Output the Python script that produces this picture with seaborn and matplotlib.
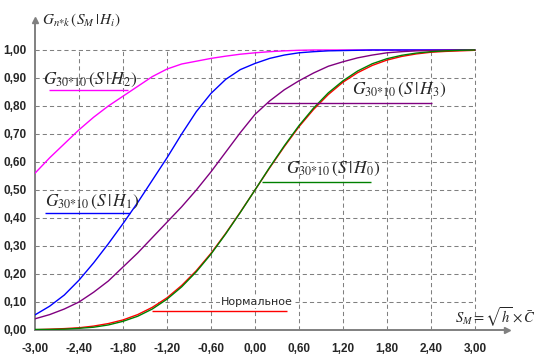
"""Distribution functions G(S|Hi) vs normal CDF."""
import numpy as np
import pandas as pd
import matplotlib
matplotlib.use("Agg")
import matplotlib.pyplot as plt
import seaborn as sns

# x grid for all curves
s_m = [-3.0, -2.8, -2.6, -2.4, -2.2, -2.0, -1.8, -1.6, -1.4, -1.2, -1.0,
       -0.8, -0.6, -0.4, -0.2, 0.0, 0.2, 0.4, 0.6, 0.8, 1.0,
       1.2, 1.4, 1.6, 1.8, 2.0, 2.2, 2.4, 2.6, 2.8, 3.0]

g_h2 = [0.560, 0.615, 0.665, 0.715, 0.760, 0.800, 0.835, 0.870, 0.905, 0.932, 0.950,
        0.960, 0.970, 0.978, 0.985, 0.990, 0.994, 0.997, 0.999, 1.000, 1.000,
        1.000, 1.000, 1.000, 1.000, 1.000, 1.000, 1.000, 1.000, 1.000, 1.000]
g_h1 = [0.054, 0.085, 0.125, 0.178, 0.240, 0.308, 0.380, 0.455, 0.535, 0.615, 0.700,
        0.780, 0.845, 0.895, 0.930, 0.952, 0.970, 0.982, 0.990, 0.994, 0.997,
        0.998, 0.999, 1.000, 1.000, 1.000, 1.000, 1.000, 1.000, 1.000, 1.000]
g_h3 = [0.040, 0.055, 0.075, 0.100, 0.135, 0.175, 0.225, 0.275, 0.330, 0.385, 0.440,
        0.500, 0.565, 0.635, 0.705, 0.770, 0.818, 0.858, 0.890, 0.918, 0.942,
        0.958, 0.972, 0.982, 0.990, 0.994, 0.997, 0.998, 0.999, 1.000, 1.000]
g_h0 = [0.002, 0.002, 0.003, 0.006, 0.010, 0.018, 0.031, 0.049, 0.075, 0.110, 0.154,
        0.208, 0.271, 0.343, 0.420, 0.500, 0.581, 0.658, 0.730, 0.793, 0.847,
        0.890, 0.925, 0.951, 0.969, 0.981, 0.989, 0.994, 0.997, 0.999, 1.000]
normal = [0.001, 0.003, 0.005, 0.008, 0.014, 0.023, 0.036, 0.055, 0.081, 0.115, 0.159,
          0.212, 0.274, 0.345, 0.421, 0.500, 0.579, 0.655, 0.726, 0.788, 0.841,
          0.885, 0.919, 0.945, 0.964, 0.977, 0.986, 0.992, 0.995, 0.997, 0.999]

x_ticks = [-3.0, -2.4, -1.8, -1.2, -0.6, 0.0, 0.6, 1.2, 1.8, 2.4, 3.0]
y_ticks = [0.0, 0.1, 0.2, 0.3, 0.4, 0.5, 0.6, 0.7, 0.8, 0.9, 1.0]

GRID = "#808080"

sns.set_style("white")
plt.rcParams["font.family"] = ["Liberation Sans", "DejaVu Sans"]
plt.rcParams["mathtext.fontset"] = "stix"
plt.rcParams["axes.unicode_minus"] = False
plt.rcParams["lines.scale_dashes"] = False

df = pd.DataFrame({"s": s_m, "H2": g_h2, "H1": g_h1, "H3": g_h3,
                   "Normal": normal, "H0": g_h0})
colors = {"H2": "#FF00FF", "H1": "#0000FF", "H3": "#800080",
          "Normal": "#FF0000", "H0": "#008000"}

fig = plt.figure(figsize=(5.4, 3.6), dpi=100)
ax = fig.add_axes([35 / 540, 30 / 360, 472 / 540, 310 / 360])
xmax = -3 + 472 / 73.33
ax.set_xlim(-3, xmax)
ax.set_ylim(0, 310 / 280)

# dashed grid only inside the [-3,3]x[0,1] box
ax.hlines(y_ticks[1:], -3, 3, colors=GRID, linestyles=(0, (3, 2.2)), lw=0.75, zorder=1)
ax.vlines(x_ticks[1:], 0, 1, colors=GRID, linestyles=(0, (3, 2.2)), lw=0.75, zorder=1)

for name in ["H2", "H1", "H3", "Normal", "H0"]:
    sns.lineplot(data=df, x="s", y=name, color=colors[name], lw=1.0,
                 estimator=None, ax=ax, zorder=3)

# callout lines + labels
lab = r"$G_{30{*}10}\,(S\,|\,H_%s)$"
ax.hlines(0.857, -2.81, -1.73, colors=colors["H2"], lw=1.0, zorder=3)
ax.text(-2.89, 0.862, lab % "2", fontsize=12.5, va="bottom")
ax.hlines(0.418, -2.86, -1.70, colors=colors["H1"], lw=1.0, zorder=3)
ax.text(-2.86, 0.424, lab % "1", fontsize=12.5, va="bottom")
ax.hlines(0.81, 0.165, 2.42, colors=colors["H3"], lw=1.0, zorder=3)
ax.text(1.32, 0.826, lab % "3", fontsize=12.5, va="bottom")
ax.hlines(0.53, 0.10, 1.58, colors=colors["H0"], lw=1.0, zorder=3)
ax.text(0.42, 0.542, lab % "0", fontsize=12.5, va="bottom")
ax.hlines(0.068, -1.40, 0.44, colors=colors["Normal"], lw=1.0, zorder=3)
ax.text(0.02, 0.10, "Нормальное", fontsize=8, ha="center", va="center",
        family=["DejaVu Sans"], zorder=4,
        bbox=dict(facecolor="white", edgecolor="none", pad=0.6))

# axis captions
ax.text(-2.9, 1.105, r"$G_{n{*}k}\,(S_M\,|\,H_i)$", fontsize=11, va="center")
ax.text(2.73, 0.045, r"$S_M=\sqrt{h}\times\bar{C}$", fontsize=10.5, va="center")

# axes with arrows
for side in ["top", "right"]:
    ax.spines[side].set_visible(False)
for side in ["left", "bottom"]:
    ax.spines[side].set_color(GRID)
    ax.spines[side].set_linewidth(1.4)
ax.plot(1, 0, ">", color=GRID, ms=5, transform=ax.get_yaxis_transform(), clip_on=False)
ax.plot(0, 1, "^", color=GRID, ms=5, transform=ax.transAxes, clip_on=False)

ax.set_xticks(x_ticks)
ax.set_yticks(y_ticks)
ax.set_xticklabels([f"{v:.2f}".replace(".", ",") for v in x_ticks],
                   fontweight="bold", fontsize=8.5)
ax.set_yticklabels([f"{v:.2f}".replace(".", ",") for v in y_ticks],
                   fontweight="bold", fontsize=8.5)
ax.tick_params(axis="both", length=0)
ax.tick_params(axis="x", pad=9)
ax.tick_params(axis="y", pad=6)
ax.set_xlabel("")
ax.set_ylabel("")

fig.savefig("out.png", dpi=100)
plt.close(fig)
